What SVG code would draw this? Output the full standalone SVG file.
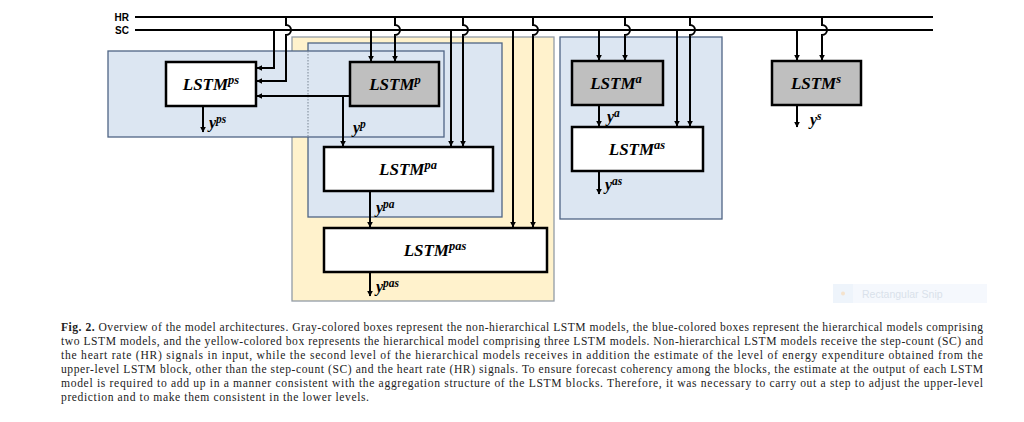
<svg xmlns="http://www.w3.org/2000/svg" width="1024" height="422" viewBox="0 0 1024 422">
<defs>
<marker id="ah" viewBox="0 0 10 10" refX="9" refY="5" markerWidth="6" markerHeight="6" markerUnits="userSpaceOnUse" orient="auto"><path d="M0,0 L10,5 L0,10 z" fill="#000"/></marker>
<style>
.bus{stroke:#000;stroke-width:2.2;fill:none}
.c{stroke:#000;stroke-width:2;fill:none;marker-end:url(#ah)}
.box{stroke:#000;stroke-width:2.5}
.gray{fill:#bfbfbf}
.white{fill:#fff}
.blue{fill:#dce6f2;stroke:#4f6584;stroke-width:1.3}
.yellow{fill:#fff2cc;stroke:#939ca6;stroke-width:1.3}
.lbl{font-family:"Liberation Serif",serif;font-weight:bold;font-style:italic;font-size:17px;fill:#000}
.sup{font-size:12.5px}
.out{font-family:"Liberation Serif",serif;font-weight:bold;font-style:italic;font-size:16px;fill:#000}
.osup{font-size:11.5px}
.sig{font-family:"Liberation Sans",sans-serif;font-weight:bold;font-size:10px;fill:#000}
.cap{font-family:"Liberation Serif",serif;font-size:11.6px;fill:#222}
</style>
</defs>
<rect width="1024" height="422" fill="#fff"/>

<g id="containers">
<rect id="yellow-pas" class="yellow" x="292" y="37" width="262" height="264"/>
<rect id="blue-pa" class="blue" x="308" y="43" width="194" height="174"/>
<rect id="blue-ps" class="blue" x="108" y="51" width="336" height="86"/>
<line x1="308" y1="51" x2="308" y2="137" stroke="#7a8694" stroke-width="1" stroke-dasharray="1.5,1.5"/>
<rect id="blue-as" class="blue" x="560" y="37" width="162" height="182"/>
</g>

<g id="signals">
<text class="sig" x="129" y="21" text-anchor="end">HR</text>
<text class="sig" x="129" y="34" text-anchor="end">SC</text>
<line class="bus" x1="135" y1="17" x2="933" y2="17"/>
<line class="bus" x1="135" y1="30" x2="933" y2="30"/>
</g>

<g id="connectors">
<path class="c" d="M274,30 V68 H257"/>
<path class="c" d="M286,17 V25 A5,5 0 0 1 286,35 V81 H257"/>
<path class="c" d="M371,30 V61"/>
<path class="c" d="M395,17 V25 A5,5 0 0 1 395,35 V61"/>
<path class="c" d="M350,96 H257"/>
<path class="c" d="M343,96 V146"/>
<path class="c" d="M451,30 V146"/>
<path class="c" d="M463,17 V25 A5,5 0 0 1 463,35 V146"/>
<path class="c" d="M370,191 V227"/>
<path class="c" d="M513,30 V227"/>
<path class="c" d="M533,17 V25 A5,5 0 0 1 533,35 V227"/>
<path class="c" d="M599,30 V60"/>
<path class="c" d="M625,17 V25 A5,5 0 0 1 625,35 V60"/>
<path class="c" d="M599,105 V126"/>
<path class="c" d="M677,30 V126"/>
<path class="c" d="M690,17 V25 A5,5 0 0 1 690,35 V126"/>
<path class="c" d="M797,30 V60"/>
<path class="c" d="M822,17 V25 A5,5 0 0 1 822,35 V60"/>
<path class="c" d="M203,106 V132"/>
<path class="c" d="M370,272 V296"/>
<path class="c" d="M599,171 V194"/>
<path class="c" d="M797,105 V127"/>
</g>

<g id="LSTMps">
<rect class="box white" x="166" y="62" width="90" height="44"/>
<text class="lbl" x="211" y="90" text-anchor="middle">LSTM<tspan class="sup" dy="-6">ps</tspan></text>
</g>
<g id="LSTMp">
<rect class="box gray" x="350" y="62" width="89" height="44"/>
<text class="lbl" x="395" y="90" text-anchor="middle">LSTM<tspan class="sup" dy="-6">p</tspan></text>
</g>
<g id="LSTMpa">
<rect class="box white" x="324" y="147" width="169" height="44"/>
<text class="lbl" x="408" y="175" text-anchor="middle">LSTM<tspan class="sup" dy="-6">pa</tspan></text>
</g>
<g id="LSTMpas">
<rect class="box white" x="324" y="228" width="223" height="44"/>
<text class="lbl" x="435" y="256" text-anchor="middle">LSTM<tspan class="sup" dy="-6">pas</tspan></text>
</g>
<g id="LSTMa">
<rect class="box gray" x="572" y="61" width="91" height="44"/>
<text class="lbl" x="616" y="89" text-anchor="middle">LSTM<tspan class="sup" dy="-6">a</tspan></text>
</g>
<g id="LSTMas">
<rect class="box white" x="572" y="127" width="131" height="44"/>
<text class="lbl" x="637" y="155" text-anchor="middle">LSTM<tspan class="sup" dy="-6">as</tspan></text>
</g>
<g id="LSTMs">
<rect class="box gray" x="772" y="61" width="89" height="44"/>
<text class="lbl" x="816" y="89" text-anchor="middle">LSTM<tspan class="sup" dy="-6">s</tspan></text>
</g>

<g id="outputs">
<text class="out" x="209" y="128">y<tspan class="osup" dy="-5">ps</tspan></text>
<text class="out" x="353" y="133">y<tspan class="osup" dy="-5">p</tspan></text>
<text class="out" x="376" y="213">y<tspan class="osup" dy="-5">pa</tspan></text>
<text class="out" x="376" y="292">y<tspan class="osup" dy="-5">pas</tspan></text>
<text class="out" x="607" y="122">y<tspan class="osup" dy="-5">a</tspan></text>
<text class="out" x="605" y="190">y<tspan class="osup" dy="-5">as</tspan></text>
<text class="out" x="810" y="125">y<tspan class="osup" dy="-5">s</tspan></text>
</g>

<g id="snip" opacity="0.9">
<rect x="833" y="284" width="154" height="19" fill="#f4f8fd"/>
<rect x="833" y="284" width="20" height="19" fill="#edf3fb"/>
<circle cx="843" cy="293.5" r="2" fill="#f3e0c8"/>
<text x="862" y="297.5" font-family="Liberation Sans, sans-serif" font-size="10.5" fill="#d6dee9">Rectangular Snip</text>
</g>

<g id="caption">
<text class="cap" x="61" y="331" textLength="922" lengthAdjust="spacing"><tspan font-weight="bold">Fig. 2.</tspan>  Overview of the model architectures. Gray-colored boxes represent the non-hierarchical LSTM models, the blue-colored boxes represent the hierarchical models comprising</text>
<text class="cap" x="61" y="345" textLength="922" lengthAdjust="spacing">two LSTM models, and the yellow-colored box represents the hierarchical model comprising three LSTM models. Non-hierarchical LSTM models receive the step-count (SC) and</text>
<text class="cap" x="61" y="359" textLength="922" lengthAdjust="spacing">the heart rate (HR) signals in input, while the second level of the hierarchical models receives in addition the estimate of the level of energy expenditure obtained from the</text>
<text class="cap" x="61" y="373" textLength="922" lengthAdjust="spacing">upper-level LSTM block, other than the step-count (SC) and the heart rate (HR) signals. To ensure forecast coherency among the blocks, the estimate at the output of each LSTM</text>
<text class="cap" x="61" y="387" textLength="922" lengthAdjust="spacing">model is required to add up in a manner consistent with the aggregation structure of the LSTM blocks. Therefore, it was necessary to carry out a step to adjust the upper-level</text>
<text class="cap" x="61" y="401" textLength="308" lengthAdjust="spacing">prediction and to make them consistent in the lower levels.</text>
</g>
</svg>
